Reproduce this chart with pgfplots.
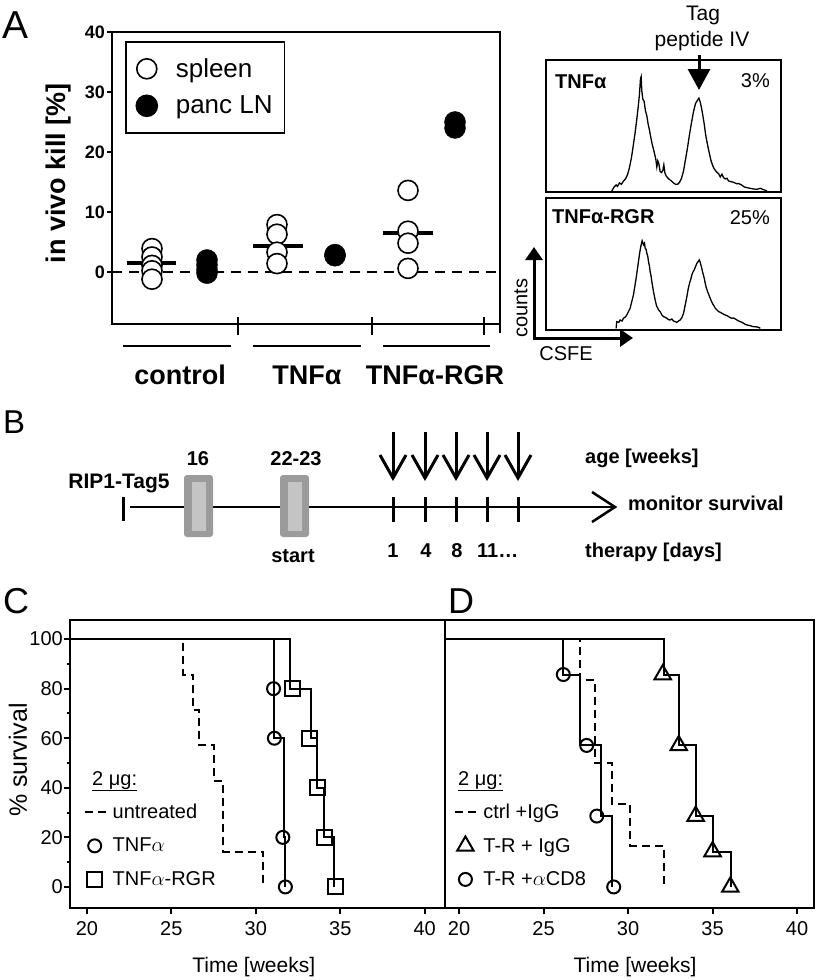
\documentclass[border=0pt]{standalone}
\usepackage{pgfplots}
\pgfplotsset{compat=1.18}
\usepackage{fontspec}
\setmainfont{Liberation Sans}
\usetikzlibrary{arrows.meta}
\newcommand{\fs}[1]{\fontsize{#1}{#1}\selectfont}
\definecolor{gout}{HTML}{9B9B9B}
\definecolor{gin}{HTML}{C4C4C4}
\pgfplotsset{
  kmline/.style={legend image code/.code={\draw[##1] (0pt,0pt) -- (25pt,0pt); \path[draw=none,fill=none] (0pt,-8pt) (25pt,8pt);}},
  kmmark/.style={legend image code/.code={\draw[##1] plot coordinates {(10pt,0pt)}; \path[draw=none,fill=none] (0pt,-8pt) (25pt,8pt);}},
  amark/.style={legend image code/.code={\draw[##1] plot coordinates {(11pt,0pt)}; \path[draw=none,fill=none] (0pt,-13pt) (38pt,13pt);}},
}
\begin{document}
\begin{tikzpicture}
\path[use as bounding box] (0,0) rectangle (819pt,-980pt);

% ---------------- Panel A ----------------
\begin{axis}[
  at={(112pt,-32pt)}, anchor=north west,
  scale only axis, width=388pt, height=292pt,
  xmin=112, xmax=500, ymin=-8.67, ymax=40,
  axis line style={line width=2pt},
  xtick=\empty, ytick={0,10,20,30,40},
  ytick pos=left, tick align=outside, major tick length=5pt,
  tick style={line width=2pt, black},
  yticklabel style={font=\bfseries\fs{18}, inner xsep=2pt},
  /pgf/number format/assume math mode=true,
  ylabel={in vivo kill [\%]},
  ylabel style={font=\bfseries\fs{27}, at={(axis description cs:-0.139,0.517)}, anchor=center},
  clip=false,
  legend style={at={(axis cs:125,38.5)}, anchor=north west, draw=black, line width=1.6pt,
     font=\fs{26}, inner xsep=10pt, inner ysep=14pt, row sep=11pt},
  legend cell align=left,
]
\addplot[forget plot, line width=1.6pt, dash pattern=on 10pt off 7pt] coordinates {(112,0) (500,0)};
\addplot[only marks, mark=*, mark size=10pt, mark options={fill=white, draw=black, line width=1.6pt}, amark] coordinates {
 (152,3.9) (152,2.5) (152,1.1) (152,0.2) (152,-1.2)
 (277,7.9) (277,6.3) (277,3.3) (277,1.4)
 (408,13.6) (408,6.8) (408,4.8) (408,0.6)};
\addlegendentry{spleen}
\addplot[only marks, mark=*, mark size=10.5pt, black, amark] coordinates {
 (207,2.0) (207,1.2) (207,0.4) (207,-0.2)
 (335,2.9) (335,2.7)
 (455,25.0) (455,24.0)};
\addlegendentry{panc LN}
\addplot[forget plot, line width=4pt] coordinates {(127,1.5) (176,1.5)};
\addplot[forget plot, line width=4pt] coordinates {(253,4.3) (303,4.3)};
\addplot[forget plot, line width=4pt] coordinates {(383,6.5) (433,6.5)};
\end{axis}

% ---------------- Histograms ----------------
\begin{axis}[
  at={(546pt,-60pt)}, anchor=north west,
  scale only axis, width=235pt, height=132pt,
  xmin=78, xmax=782, ymin=-3, ymax=392,
  xtick=\empty, ytick=\empty, axis line style={line width=2.2pt},
]
\addplot[line width=1.3pt, black] coordinates {
(275,0) (282,12) (288,18) (292,14) (298,24) (304,20) (310,30) (316,36) (322,48) (328,70)
(334,100) (340,140) (345,175) (350,215) (354,250) (358,290) (361,335) (363,342) (365,300)
(368,275) (372,268) (376,240) (380,225) (384,200) (388,182) (392,160) (396,140) (400,125)
(404,108) (407,95) (410,72) (413,90) (416,82) (420,58) (424,55) (428,62) (431,78) (434,55)
(438,45) (442,40) (448,34) (454,30) (460,24) (466,20) (472,20) (478,26) (484,38) (490,60)
(496,95) (502,130) (508,170) (514,205) (520,238) (526,262) (532,272) (536,278) (540,266)
(544,248) (548,225) (552,200) (556,170) (560,148) (564,128) (568,110) (572,92) (576,80)
(580,70) (585,62) (590,56) (595,52) (600,42) (605,50) (610,40) (615,36) (620,38) (625,30)
(632,28) (640,26) (648,22) (656,22) (664,18) (672,12) (680,10) (690,8) (700,6) (710,5)
(720,8) (730,4) (740,0)};
\end{axis}
\begin{axis}[
  at={(546pt,-198pt)}, anchor=north west,
  scale only axis, width=235pt, height=132pt,
  xmin=78, xmax=782, ymin=-5, ymax=390,
  xtick=\empty, ytick=\empty, axis line style={line width=2.2pt},
]
\addplot[line width=1.3pt, black] coordinates {
(288,0) (290,20) (296,18) (300,25) (306,22) (310,30) (316,34) (320,40) (326,52) (330,60)
(335,80) (340,100) (344,125) (348,150) (352,178) (355,200) (359,228) (362,245) (366,262)
(370,250) (373,255) (375,240) (378,236) (380,225) (383,215) (385,200) (388,186) (390,170)
(393,155) (395,140) (398,122) (400,110) (403,95) (405,85) (408,72) (410,65) (413,60)
(415,55) (418,52) (420,50) (425,40) (430,35) (435,33) (440,30) (445,26) (450,25) (455,28)
(460,22) (465,20) (470,18) (475,22) (480,25) (485,32) (490,45) (495,70) (500,95) (504,118)
(508,135) (512,148) (515,160) (518,168) (522,175) (526,185) (530,195) (534,200) (537,205)
(540,198) (542,190) (545,178) (548,165) (552,150) (555,135) (558,122) (562,110) (566,100)
(570,90) (574,80) (578,72) (582,66) (585,60) (590,55) (595,50) (600,48) (605,45) (610,42)
(615,40) (620,38) (625,35) (630,32) (635,30) (640,31) (645,28) (650,25) (655,22) (660,20)
(665,18) (670,15) (675,12) (680,10) (685,9) (690,8) (695,6) (700,5) (705,5) (710,4) (715,3) (720,0)};
\end{axis}

% ---------------- Panel C ----------------
\begin{axis}[
  at={(70pt,-620pt)}, anchor=north west,
  scale only axis, width=375pt, height=288pt,
  xmin=19, xmax=41.2, ymin=-8.5, ymax=107.7,
  axis line style={line width=2.6pt},
  xtick={20,25,30,35,40}, ytick={0,20,40,60,80,100}, minor ytick={10,30,50,70,90},
  tick pos=left, tick align=outside, major tick length=6pt, minor tick length=3pt,
  tick style={line width=2pt, black},
  tick label style={font=\fs{20}},
  yticklabel style={inner xsep=1pt},
  xticklabel style={yshift=-4pt},
  /pgf/number format/assume math mode=true,
  xlabel={Time [weeks]},
  xlabel style={font=\fs{21}, at={(axis description cs:0.49,-0.205)}, anchor=center},
  ylabel={\% survival},
  ylabel style={font=\fs{25}, at={(axis description cs:-0.139,0.514)}, anchor=center},
  legend style={at={(axis description cs:0.036,0.368)}, anchor=north west, draw=none, fill=none,
     font=\fs{20}, row sep=14pt, inner sep=0pt},
  legend cell align=left,
  clip=false,
]
\addplot[const plot, line width=2pt, black, dash pattern=on 8pt off 5pt, kmline] coordinates {
 (19,100) (25.7,85.7) (26.3,71.4) (26.65,57.1) (27.55,42.9) (28.05,14.3) (30.45,0)};
\addlegendentry{untreated}
\addplot[const plot, line width=2pt, black, forget plot] coordinates {
 (19,100) (31.05,80) (31.1,60) (31.65,20) (31.75,0)};
\addplot[only marks, mark=o, mark size=6.5pt, line width=2pt, black, kmmark] coordinates {
 (31.05,80) (31.1,60) (31.6,20) (31.75,0)};
\addlegendentry{TNF$\alpha$}
\addplot[const plot, line width=2pt, black, forget plot] coordinates {
 (19,100) (32.05,80) (33.25,60) (33.6,40) (34.05,20) (34.6,0)};
\addplot[only marks, mark=square, mark size=7.5pt, line width=2pt, black, kmmark] coordinates {
 (32.15,80) (33.2,60) (33.65,40) (34.05,20) (34.7,0)};
\addlegendentry{TNF$\alpha$-RGR}
\end{axis}

% ---------------- Panel D ----------------
\begin{axis}[
  at={(445pt,-620pt)}, anchor=north west,
  scale only axis, width=369pt, height=288pt,
  xmin=19.17, xmax=41.0, ymin=-8.5, ymax=107.7,
  axis line style={line width=2.6pt},
  xtick={20,25,30,35,40}, ytick=\empty,
  tick pos=left, tick align=outside, major tick length=6pt,
  tick style={line width=2pt, black},
  tick label style={font=\fs{20}},
  xticklabel style={yshift=-4pt},
  /pgf/number format/assume math mode=true,
  xlabel={Time [weeks]},
  xlabel style={font=\fs{21}, at={(axis description cs:0.515,-0.205)}, anchor=center},
  legend style={at={(axis description cs:0.025,0.368)}, anchor=north west, draw=none, fill=none,
     font=\fs{20}, row sep=14pt, inner sep=0pt},
  legend cell align=left,
  clip=false,
]
\addplot[const plot, line width=2pt, black, dash pattern=on 8pt off 5pt, kmline] coordinates {
 (19.17,100) (27.15,83.3) (28.05,50) (29.05,33.3) (30.1,16.7) (32.1,0)};
\addlegendentry{ctrl +IgG}
\addplot[const plot, line width=2pt, black, forget plot] coordinates {
 (19.17,100) (32.1,85.7) (33.0,57.1) (34.0,28.6) (35.0,14.3) (36.1,0)};
\addplot[only marks, mark=triangle, mark size=9.5pt, line width=2pt, black, kmmark] coordinates {
 (32.05,85.7) (33.0,57.1) (34.0,28.6) (35.0,14.3) (36.05,0)};
\addlegendentry{T-R + IgG}
\addplot[const plot, line width=2pt, black, forget plot] coordinates {
 (19.17,100) (26.15,85.7) (27.15,57.1) (28.4,28.6) (29.05,0)};
\addplot[only marks, mark=o, mark size=6.5pt, line width=2pt, black, kmmark] coordinates {
 (26.17,85.7) (27.55,57.1) (28.15,28.6) (29.15,0)};
\addlegendentry{T-R +$\alpha$CD8}
\end{axis}

% ---------------- annotations (pixel coordinates) ----------------
\begin{scope}[x=1pt, y=-1pt]
% panel letters
\node[anchor=base west, inner sep=0, font=\fs{39}] at (2,38) {A};
\node[anchor=base west, inner sep=0, font=\fs{33}] at (3,433) {B};
\node[anchor=base west, inner sep=0, font=\fs{36}] at (3,613) {C};
\node[anchor=base west, inner sep=0, font=\fs{36}] at (448,613) {D};

% panel A x-axis decorations
\draw[line width=2pt] (500,324) -- (500,333);
\foreach \xx in {238,372,484} \draw[line width=2pt] (\xx,317) -- (\xx,335);
\draw[line width=2pt] (123,346) -- (231,346);
\draw[line width=2pt] (253,346) -- (361,346);
\draw[line width=2pt] (383,346) -- (490,346);
\node[font=\bfseries\fs{27}, inner sep=0] at (180,375) {control};
\node[font=\bfseries\fs{27}, inner sep=0] at (307,375) {TNFα};
\node[font=\bfseries\fs{27}, inner sep=0] at (435,375) {TNFα-RGR};

% histogram annotations
\node[anchor=west, font=\bfseries\fs{20}, inner sep=0] at (555,82) {TNFα};
\node[anchor=east, font=\fs{20}, inner sep=0] at (770,81) {3\%};
\node[anchor=west, font=\bfseries\fs{20}, inner sep=0] at (552,217) {TNFα-RGR};
\node[anchor=east, font=\fs{20}, inner sep=0] at (770,218) {25\%};
\node[font=\fs{21}, inner sep=0] at (703,15) {Tag};
\node[font=\fs{21}, inner sep=0] at (702,41) {peptide IV};
\draw[line width=3pt, -{Triangle[length=21pt,width=22pt]}] (699,55) -- (699,90);
\draw[line width=3pt, {Triangle[length=13pt,width=17pt]}-{Triangle[length=13pt,width=17pt]}] (534,247) -- (534,338) -- (633,338);
\node[rotate=90, font=\fs{20}, inner sep=0] at (521,308) {counts};
\node[font=\fs{20}, inner sep=0] at (566,354) {CSFE};

% Panel B
\node[anchor=base, font=\bfseries\fs{21}, inner sep=0] at (119,488) {RIP1-Tag5};
\draw[line width=3pt] (123,497) -- (123,521);
\draw[line width=2.5pt] (130,507) -- (613,507);
\draw[line width=2.5pt] (592,492) -- (615,507) -- (592,522);
\foreach \xx in {184,280} {
  \fill[gout, rounded corners=3pt] (\xx,475) rectangle ({\xx+29},537);
  \fill[gin] ({\xx+8},482) rectangle ({\xx+22},531);
}
\node[anchor=base, font=\bfseries\fs{20}, inner sep=0] at (198,465) {16};
\node[anchor=base, font=\bfseries\fs{20}, inner sep=0] at (296,465) {22-23};
\node[anchor=base, font=\bfseries\fs{20}, inner sep=0] at (293,562) {start};
\foreach \xx in {393,425,456,487,518} {
  \draw[line width=3pt] (\xx,497) -- (\xx,522);
  \draw[line width=3pt] (\xx,432) -- (\xx,476);
  \draw[line width=3pt] ({\xx-13},455) -- (\xx,478) -- ({\xx+13},455);
}
\node[anchor=base, font=\bfseries\fs{20}, inner sep=0] at (393,557) {1};
\node[anchor=base, font=\bfseries\fs{20}, inner sep=0] at (426,557) {4};
\node[anchor=base, font=\bfseries\fs{20}, inner sep=0] at (457,557) {8};
\node[anchor=base west, font=\bfseries\fs{20}, inner sep=0] at (477,557) {11…};
\node[anchor=base west, font=\bfseries\fs{20}, inner sep=0] at (585,463) {age [weeks]};
\node[anchor=base west, font=\bfseries\fs{20}, inner sep=0] at (628,510) {monitor survival};
\node[anchor=base west, font=\bfseries\fs{20}, inner sep=0] at (585,557) {therapy [days]};

% legend headers C, D
\node[anchor=base west, font=\fs{20}, inner sep=0] at (92,785) {\underline{2 μg:}};
\node[anchor=base west, font=\fs{20}, inner sep=0] at (458,785) {\underline{2 μg:}};
\end{scope}
\end{tikzpicture}
\end{document}
